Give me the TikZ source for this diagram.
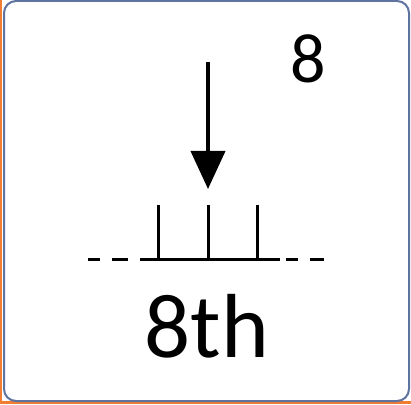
\documentclass[tikz,border=0pt]{standalone}
\usepackage{fontspec}
\setmainfont{Carlito}
\usetikzlibrary{arrows.meta}
\definecolor{frame}{RGB}{95,115,160}
\definecolor{edge}{RGB}{240,125,50}
\tikzset{
  line/.style={line width=3pt,black},
  lbl/.style={inner sep=0pt,font=\fontsize{91}{91}\selectfont},
  num/.style={inner sep=0pt,font=\fontsize{70}{70}\selectfont}
}
\begin{document}
\begin{tikzpicture}[x=1pt,y=1pt]
\useasboundingbox (0,0) rectangle (411,404);
\fill[edge] (0,0) rectangle (411,404);
\fill[white] (2,3) rectangle (411,404);
\draw[frame,line width=2pt,fill=white,rounded corners=12pt] (4,3) rectangle (409,403);
% arrow
\coordinate (atop) at (208,342);
\coordinate (atip) at (208,215);
\draw[line width=4pt,-{Triangle[width=34pt,length=38pt]}] (atop) -- (atip);
% baseline
\coordinate (b1) at (140,145);
\coordinate (b2) at (280,145);
\draw[line] (b1) -- (b2);
\coordinate (l1a) at (88,145); \coordinate (l1b) at (100,145);
\coordinate (l2a) at (112,145); \coordinate (l2b) at (128,145);
\coordinate (r1a) at (286,145); \coordinate (r1b) at (298,145);
\coordinate (r2a) at (310,145); \coordinate (r2b) at (324,145);
\draw[line] (l1a) -- (l1b);
\draw[line] (l2a) -- (l2b);
\draw[line] (r1a) -- (r1b);
\draw[line] (r2a) -- (r2b);
% ticks
\foreach \x/\n in {158/t1,208/t2,257/t3}{
  \coordinate (\n) at (\x,199);
  \coordinate (\n b) at (\x,145);
  \draw[line] (\n) -- (\n b);
}
\node[lbl,anchor=base] (ord) at (207,47) {8th};
\node[num,anchor=base] (n) at (308,321) {8};
\end{tikzpicture}
\end{document}
